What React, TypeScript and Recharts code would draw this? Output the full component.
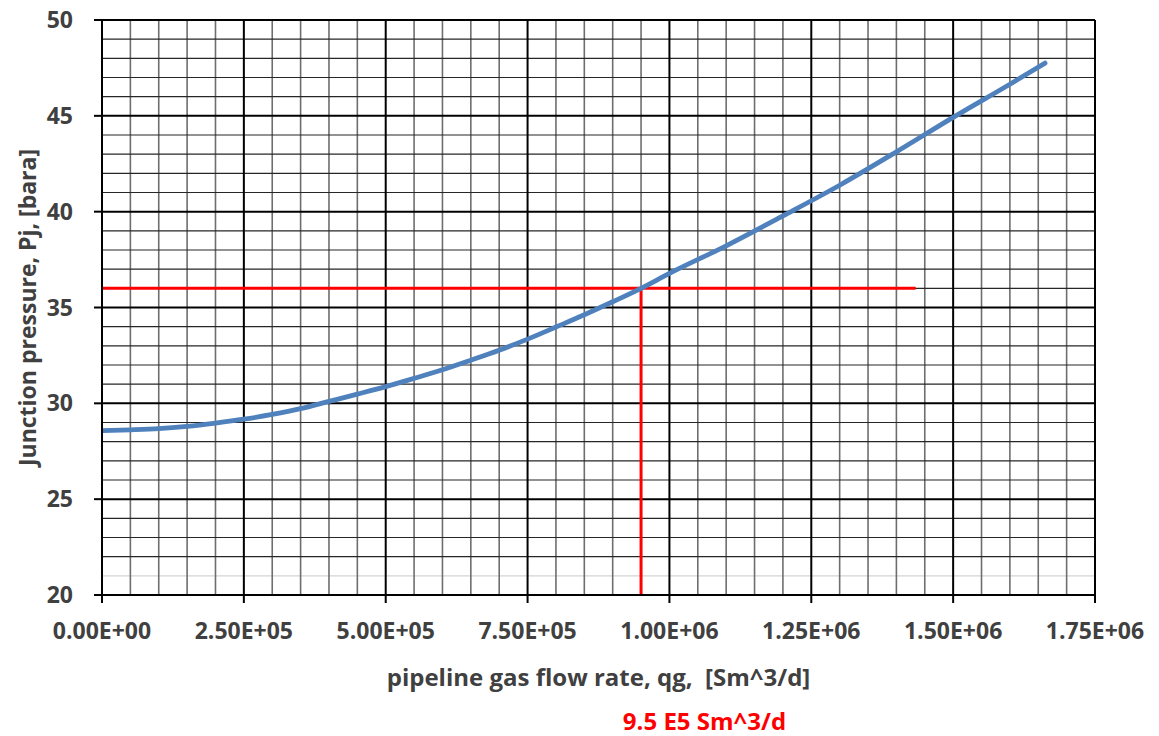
import React from 'react';
import {
  LineChart,
  Line,
  XAxis,
  YAxis,
  ReferenceLine,
  Label,
} from 'recharts';

// Junction pressure vs pipeline gas flow rate
const flowRate = [
  0, 50000, 100000, 150000, 200000, 250000, 300000, 350000, 400000, 450000,
  500000, 550000, 600000, 650000, 700000, 750000, 800000, 850000, 900000,
  950000, 1000000, 1100000, 1200000, 1300000, 1400000, 1500000, 1600000, 1662000,
];
const pressure = [
  28.58, 28.62, 28.68, 28.8, 28.97, 29.17, 29.42, 29.72, 30.1, 30.48,
  30.87, 31.3, 31.75, 32.25, 32.77, 33.35, 33.98, 34.62, 35.3,
  36.0, 36.78, 38.22, 39.78, 41.38, 43.12, 44.92, 46.65, 47.75,
];

const xTicks = [0, 250000, 500000, 750000, 1000000, 1250000, 1500000, 1750000];
const yTicks = [20, 25, 30, 35, 40, 45, 50];
const xMinor = [
  50000, 100000, 150000, 200000, 300000, 350000, 400000, 450000, 550000, 600000,
  650000, 700000, 800000, 850000, 900000, 950000, 1050000, 1100000, 1150000, 1200000,
  1300000, 1350000, 1400000, 1450000, 1550000, 1600000, 1650000, 1700000,
];
const yMinor = [22, 23, 24, 26, 27, 28, 29, 31, 32, 33, 34, 36, 37, 38, 39, 41, 42, 43, 44, 46, 47, 48, 49];
const yFaint = [21];

// operating point read-off
const opFlow = 950000;
const opPressure = 36;
const opLineEnd = 1434000;
const opText = '9.5 E5 Sm^3/d';

const data = flowRate.map((q, i) => ({ q, p: pressure[i] }));

const FONT = '"Open Sans", "DejaVu Sans", sans-serif';
const TEXT = '#404040';

function sci(v: number): string {
  if (v === 0) return '0.00E+00';
  const e = Math.floor(Math.log10(v));
  const m = v / Math.pow(10, e);
  return `${m.toFixed(2)}E+${String(e).padStart(2, '0')}`;
}

const tickStyle = { fontFamily: FONT, fontSize: 23, fontWeight: 700, fill: TEXT };

function YTitle(props: any) {
  const { viewBox } = props;
  const cx = viewBox.x + 15;
  const cy = viewBox.y + viewBox.height / 2;
  return (
    <text
      x={cx}
      y={cy}
      transform={`rotate(-90, ${cx}, ${cy})`}
      textAnchor="middle"
      dominantBaseline="central"
      style={{ fontFamily: FONT, fontSize: 23, fontWeight: 700, fill: TEXT }}
    >
      Junction pressure, Pj, [bara]
    </text>
  );
}

function XTitle(props: any) {
  const { viewBox } = props;
  return (
    <text
      x={viewBox.x + viewBox.width / 2}
      y={viewBox.y + 81}
      textAnchor="middle"
      dominantBaseline="central"
      style={{ fontFamily: FONT, fontSize: 24, fontWeight: 700, fill: TEXT, whiteSpace: 'pre' }}
    >
      {'pipeline gas flow rate, qg,  [Sm^3/d]'}
    </text>
  );
}

function OpTitle(props: any) {
  const { viewBox } = props;
  return (
    <text
      x={viewBox.x + viewBox.width / 2 + 106}
      y={viewBox.y + 125}
      textAnchor="middle"
      dominantBaseline="central"
      style={{ fontFamily: FONT, fontSize: 24, fontWeight: 700, fill: '#ff0000' }}
    >
      {opText}
    </text>
  );
}

export default function App() {
  return (
    <div style={{ position: 'absolute', left: 0, top: 0, width: 1159, height: 736, background: '#fff' }}>
      <LineChart
        width={1159}
        height={736}
        data={data}
        margin={{ top: 20, right: 64, bottom: 81, left: 12 }}
      >
        <XAxis
          dataKey="q"
          type="number"
          domain={[0, 1750000]}
          ticks={xTicks}
          tickFormatter={sci}
          interval={0}
          height={60}
          tick={tickStyle}
          tickSize={8}
          tickMargin={20}
          stroke="#000"
          strokeWidth={2}
          allowDataOverflow
        >
          <Label content={<XTitle />} />
          <Label content={<OpTitle />} />
        </XAxis>
        <YAxis
          type="number"
          domain={[20, 50]}
          ticks={yTicks}
          interval={0}
          width={90}
          tick={tickStyle}
          tickSize={8}
          tickMargin={21}
          stroke="#000"
          strokeWidth={2}
          allowDataOverflow
        >
          <Label content={<YTitle />} />
        </YAxis>

        {yFaint.map((v) => (
          <ReferenceLine key={`yf${v}`} y={v} stroke="#d4d4d4" strokeWidth={1.2} />
        ))}
        {xMinor.map((v) => (
          <ReferenceLine key={`xm${v}`} x={v} stroke="#6e6e6e" strokeWidth={1.6} />
        ))}
        {yMinor.map((v) => (
          <ReferenceLine key={`ym${v}`} y={v} stroke="#262626" strokeWidth={1.2} />
        ))}
        {xTicks.map((v) => (
          <ReferenceLine key={`xM${v}`} x={v} stroke="#000" strokeWidth={2} />
        ))}
        {yTicks.map((v) => (
          <ReferenceLine key={`yM${v}`} y={v} stroke="#000" strokeWidth={2} />
        ))}

        <ReferenceLine
          segment={[{ x: 0, y: opPressure }, { x: opLineEnd, y: opPressure }]}
          stroke="#ff0000"
          strokeWidth={3}
        />
        <ReferenceLine
          segment={[{ x: opFlow, y: 20 }, { x: opFlow, y: opPressure }]}
          stroke="#ff0000"
          strokeWidth={3}
        />

        <Line
          type="monotone"
          dataKey="p"
          stroke="#4f81bd"
          strokeWidth={4.8}
          strokeLinecap="round"
          dot={false}
          activeDot={false}
          isAnimationActive={false}
        />
      </LineChart>
    </div>
  );
}
